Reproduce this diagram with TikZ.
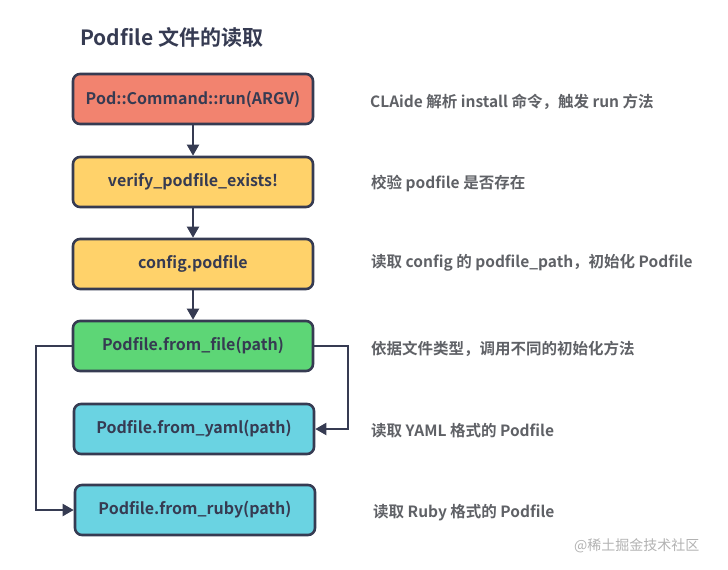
\documentclass[tikz,border=0pt]{standalone}
\usepackage{fontspec}
\setmainfont{Noto Sans CJK SC}[BoldFont={Noto Sans CJK SC Bold}]
\usetikzlibrary{arrows.meta}

\definecolor{navy}{HTML}{363B52}
\definecolor{notegray}{HTML}{5F6166}
\definecolor{runred}{HTML}{F2836F}
\definecolor{stepyellow}{HTML}{FFD26A}
\definecolor{filegreen}{HTML}{5DD676}
\definecolor{parsecyan}{HTML}{6AD3E2}

\begin{document}
\begin{tikzpicture}[x=1pt,y=-1pt,
    box/.style={draw=navy, line width=2.6pt, rounded corners=7pt,
      minimum width=240pt, minimum height=50pt, inner sep=0pt,
      text=navy, font=\bfseries\fontsize{16}{18}\selectfont},
    note/.style={anchor=west, text=notegray, inner sep=0pt,
      font=\bfseries\fontsize{15.5}{18}\selectfont},
    link/.style={draw=navy, line width=2pt, -{Triangle[length=11pt,width=12pt]}}]
    \useasboundingbox (0,0) rectangle (728,570);

    \node[anchor=west, inner sep=0pt, text=navy,
      font=\bfseries\fontsize{21}{24}\selectfont] (title) at (80,37) {Podfile 文件的读取};

    % flow boxes
    \node[box, fill=runred] (run) at (193,99) {Pod::Command::run(ARGV)};
    \node[box, fill=stepyellow] (verify) at (193,182) {verify\_podfile\_exists!};
    \node[box, fill=stepyellow] (config) at (193,264) {config.podfile};
    \node[box, fill=filegreen] (file) at (193,346) {Podfile.from\_file(path)};
    \node[box, fill=parsecyan] (yaml) at (194,429) {Podfile.from\_yaml(path)};
    \node[box, fill=parsecyan] (ruby) at (195,510) {Podfile.from\_ruby(path)};

    \draw[link] (run) -- (verify);
    \draw[link] (verify) -- (config);
    \draw[link] (config) -- (file);
    \draw[link] (file.east) -- ++(34,0) |- (yaml.east);
    \draw[link] (file.west) -- ++(-36,0) |- (ruby.west);

    % notes
    \node[note] (runnote) at (370,102) {CLAide 解析 install 命令，触发 run 方法};
    \node[note] (verifynote) at (371,183) {校验 podfile 是否存在};
    \node[note] (confignote) at (371,263) {读取 config 的 podfile\_path，初始化 Podfile};
    \node[note] (filenote) at (371,349) {依据文件类型，调用不同的初始化方法};
    \node[note] (yamlnote) at (371,431) {读取 YAML 格式的 Podfile};
    \node[note] (rubynote) at (373,513) {读取 Ruby 格式的 Podfile};

    \node[anchor=west, inner sep=0pt, text=black!30,
      font=\fontsize{14}{16}\selectfont] (mark) at (574,546) {@稀土掘金技术社区};
\end{tikzpicture}
\end{document}
